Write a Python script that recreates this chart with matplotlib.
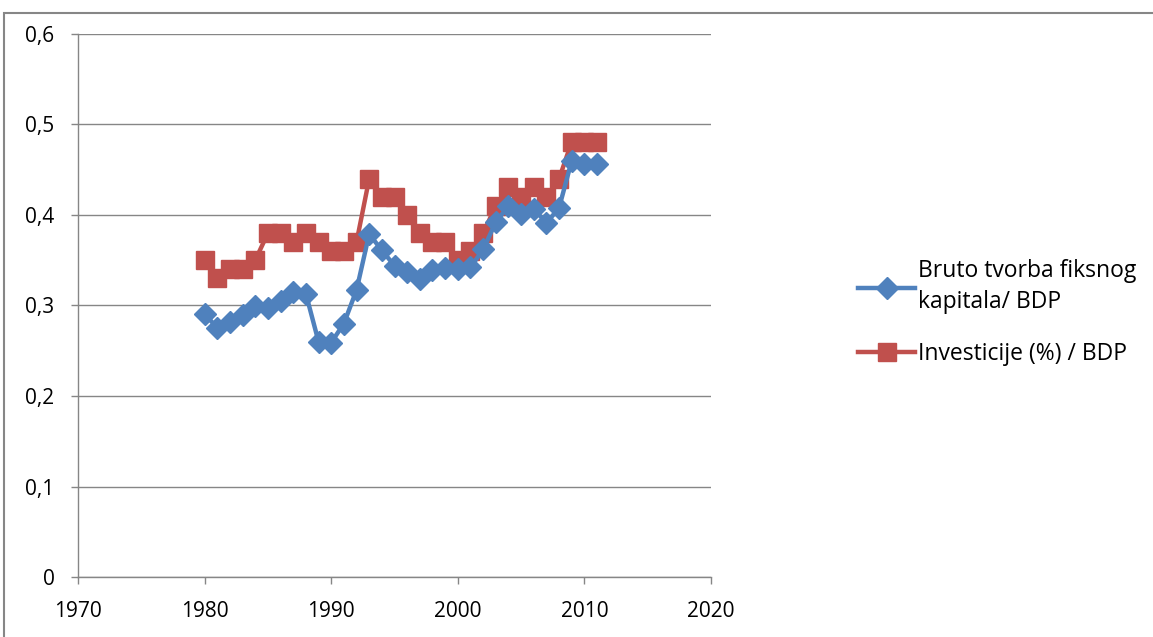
import matplotlib
matplotlib.use("Agg")
import matplotlib.pyplot as plt
from matplotlib.patches import Rectangle
from matplotlib.ticker import FuncFormatter

# data
years = list(range(1980, 2012))
bruto = [0.291, 0.275, 0.282, 0.289, 0.299, 0.297, 0.305, 0.315, 0.313, 0.260,
         0.259, 0.280, 0.317, 0.379, 0.361, 0.344, 0.337, 0.329, 0.339, 0.341,
         0.340, 0.342, 0.362, 0.392, 0.410, 0.401, 0.407, 0.391, 0.408, 0.460,
         0.456, 0.456]
invest = [0.350, 0.330, 0.340, 0.340, 0.350, 0.380, 0.380, 0.370, 0.380, 0.370,
          0.360, 0.360, 0.370, 0.440, 0.420, 0.420, 0.400, 0.380, 0.370, 0.370,
          0.350, 0.360, 0.380, 0.410, 0.431, 0.420, 0.431, 0.420, 0.440, 0.481,
          0.481, 0.481]
label_bruto = "Bruto tvorba fiksnog\nkapitala/ BDP"
label_invest = "Investicije (%) / BDP"

plt.rcParams['font.family'] = ['Open Sans', 'DejaVu Sans']

fig = plt.figure(figsize=(11.53, 6.37), dpi=100)
ax = fig.add_axes([78 / 1153, 60 / 637, 633 / 1153, 543 / 637])

grey = '#868686'

ax.plot(years, bruto, color='#4F81BD', lw=3.2, marker='D', ms=11,
        mec='#4F81BD', mfc='#4F81BD', label=label_bruto, zorder=3)
ax.plot(years, invest, color='#C0504D', lw=3.2, marker='s', ms=13,
        mec='#C0504D', mfc='#C0504D', label=label_invest, zorder=2)

ax.set_xlim(1970, 2020)
ax.set_ylim(0, 0.6)
ax.set_xticks(range(1970, 2021, 10))
ax.set_yticks([0, 0.1, 0.2, 0.3, 0.4, 0.5, 0.6])
ax.yaxis.set_major_formatter(FuncFormatter(
    lambda v, p: '0' if v == 0 else ('%.1f' % v).replace('.', ',')))

ax.grid(axis='y', color=grey, lw=1)
ax.set_axisbelow(True)
for s in ['top', 'right']:
    ax.spines[s].set_visible(False)
for s in ['left', 'bottom']:
    ax.spines[s].set_color(grey)
    ax.spines[s].set_linewidth(1)
ax.tick_params(axis='both', colors=grey, length=5, width=1, labelsize=15,
               labelcolor='black', direction='out')
ax.tick_params(axis='x', pad=12)
ax.tick_params(axis='y', pad=12)

leg = fig.legend(loc='upper left', bbox_to_anchor=(858 / 1153, 1 - 259 / 637),
                 frameon=False, fontsize=16.5, handlelength=2.5,
                 labelspacing=1.2, handletextpad=0.1, borderaxespad=0,
                 borderpad=0)
for t in leg.get_texts():
    t.set_linespacing(1.4)

# outer chart border (only top and left edges visible)
fig.patches.append(Rectangle((4 / 1153, -0.1), 1.2, 1.1 - 13 / 637,
                             transform=fig.transFigure, fill=False,
                             edgecolor=grey, lw=1.5))

fig.savefig('out.png', dpi=100)
